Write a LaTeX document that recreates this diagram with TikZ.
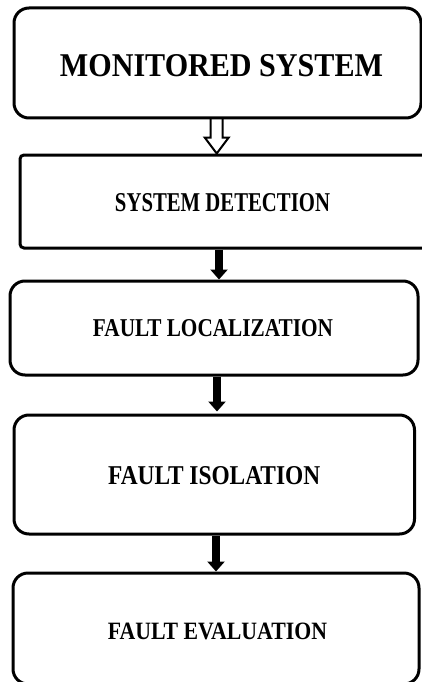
\documentclass[tikz,border=0pt]{standalone}
\usepackage{fontspec}
\setmainfont{Liberation Serif}
\usepackage{graphicx}
\usetikzlibrary{arrows.meta,calc}
\tikzset{
  stage/.style={draw=black, line width=3pt, rounded corners=15pt, inner sep=0pt},
  stagetext/.style={inner sep=0pt, font=\bfseries},
  flow/.style={line width=7.5pt, -{Triangle[length=10pt,width=17pt]}},
  hollow/.style={line width=2pt, line join=miter},
}
\begin{document}
\begin{tikzpicture}[x=1pt,y=-1pt]
\useasboundingbox (0,0) rectangle (421,682);
\fill[white] (0,0) rectangle (421,682);

% process stages
\node[stage, minimum width=407pt, minimum height=110pt,
  label={[stagetext,xshift=4pt,yshift=-3pt]center:\resizebox{323pt}{22pt}{MONITORED SYSTEM}}]
  (m) at (217.5,63) {};
\node[stage, rounded corners=4pt, minimum width=412pt, minimum height=93pt,
  label={[stagetext,xshift=-3.5pt,yshift=-1pt]center:\resizebox{215pt}{18pt}{SYSTEM DETECTION}}]
  (d) at (226,201.5) {};
\node[stage, minimum width=408pt, minimum height=94pt,
  label={[stagetext,xshift=-1pt]center:\resizebox{240pt}{17pt}{FAULT LOCALIZATION}}]
  (l) at (214,328) {};
\node[stage, minimum width=400.5pt, minimum height=119pt,
  label={[stagetext,yshift=-1.5pt]center:\resizebox{212pt}{18pt}{FAULT ISOLATION}}]
  (i) at (214.25,474.5) {};
\node[stage, minimum width=406pt, minimum height=111pt,
  label={[stagetext,xshift=1.5pt,yshift=-2.5pt]center:\resizebox{219pt}{16.5pt}{FAULT EVALUATION}}]
  (e) at (216,628.5) {};

% hollow arrow from the monitored system
\coordinate (h1) at ([xshift=-0.8pt]m.south);
\coordinate (h2) at (h1 |- d.north);
\draw[hollow] ($(h1)+(-6,-1.5)$) -- ($(h2)+(-6,-16)$) -- ($(h2)+(-12,-16)$) -- (h2)
  -- ($(h2)+(12,-16)$) -- ($(h2)+(6,-16)$) -- ($(h1)+(6,-1.5)$);

% solid arrows between the stages
\coordinate (a2) at ([xshift=-7pt]d.south);
\draw[flow] (a2) -- (a2 |- l.north);
\coordinate (a3) at ([xshift=3pt]l.south);
\draw[flow] (a3) -- ([yshift=2pt]a3 |- i.north);
\coordinate (a4) at ([xshift=1.75pt]i.south);
\draw[flow] (a4) -- (a4 |- e.north);
\end{tikzpicture}
\end{document}
